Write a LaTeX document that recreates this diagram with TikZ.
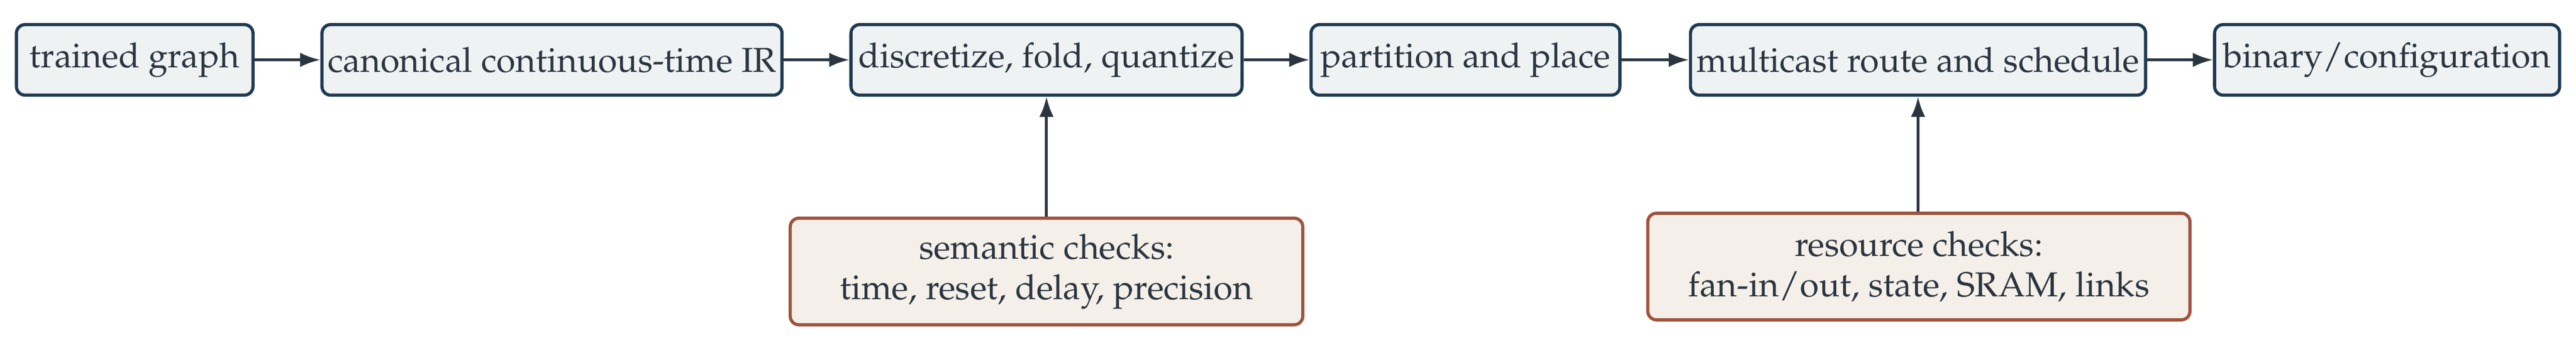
\documentclass[tikz,border=0pt]{standalone}
\usepackage[T1]{fontenc}
\usepackage{mathpazo}
\usetikzlibrary{positioning}
\usetikzlibrary{arrows.meta}
\definecolor{stagefill}{HTML}{EEF2F3}
\definecolor{stageline}{HTML}{1F3A52}
\definecolor{checkfill}{HTML}{F4EFE8}
\definecolor{checkline}{HTML}{A0523D}
\definecolor{ink}{HTML}{2A3540}
\tikzset{
	every node/.style = {font=\large, text=ink},
	stage/.style = {draw=stageline, fill=stagefill, line width=1.1pt, rounded corners=3pt, minimum height=0.86cm, inner sep=0pt},
	check/.style = {draw=checkline, fill=checkfill, line width=1.1pt, rounded corners=3pt, minimum height=1.3cm, inner sep=0pt, align=center},
	flow/.style = {-{Latex[length=7pt,width=5pt]}, line width=1pt, ink}
}
\begin{document}
\begin{tikzpicture}
		\useasboundingbox (0,0) rectangle (31.36,-4.3);
		% pipeline
		\node[stage, minimum width=2.88cm] (graph) at (1.64,-0.73) {trained graph};
		\node[stage, minimum width=5.6cm] (ir) at (6.72,-0.73) {canonical continuous-time IR};
		\node[stage, minimum width=4.76cm] (disc) at (12.74,-0.73) {discretize, fold, quantize};
		\node[stage, minimum width=3.76cm] (place) at (17.84,-0.73) {partition and place};
		\node[stage, minimum width=5.54cm] (route) at (23.35,-0.73) {multicast route and schedule};
		\node[stage, minimum width=4.2cm] (bin) at (29.06,-0.73) {binary/configuration};
		% checks
		\node[check, minimum width=6.24cm] (sem) at (12.74,-3.31) {semantic checks:\\time, reset, delay, precision};
		\node[check, minimum width=6.6cm] (res) at (23.36,-3.25) {resource checks:\\fan-in/out, state, SRAM, links};
		% arrows
		\draw[flow] (graph) -- (ir);
		\draw[flow] (ir) -- (disc);
		\draw[flow] (disc) -- (place);
		\draw[flow] (place) -- (route);
		\draw[flow] (route) -- (bin);
		\draw[flow] (sem.north) -- (disc.south);
		\draw[flow] (res.north -| route.south) -- (route.south);
	\end{tikzpicture}
\end{document}
